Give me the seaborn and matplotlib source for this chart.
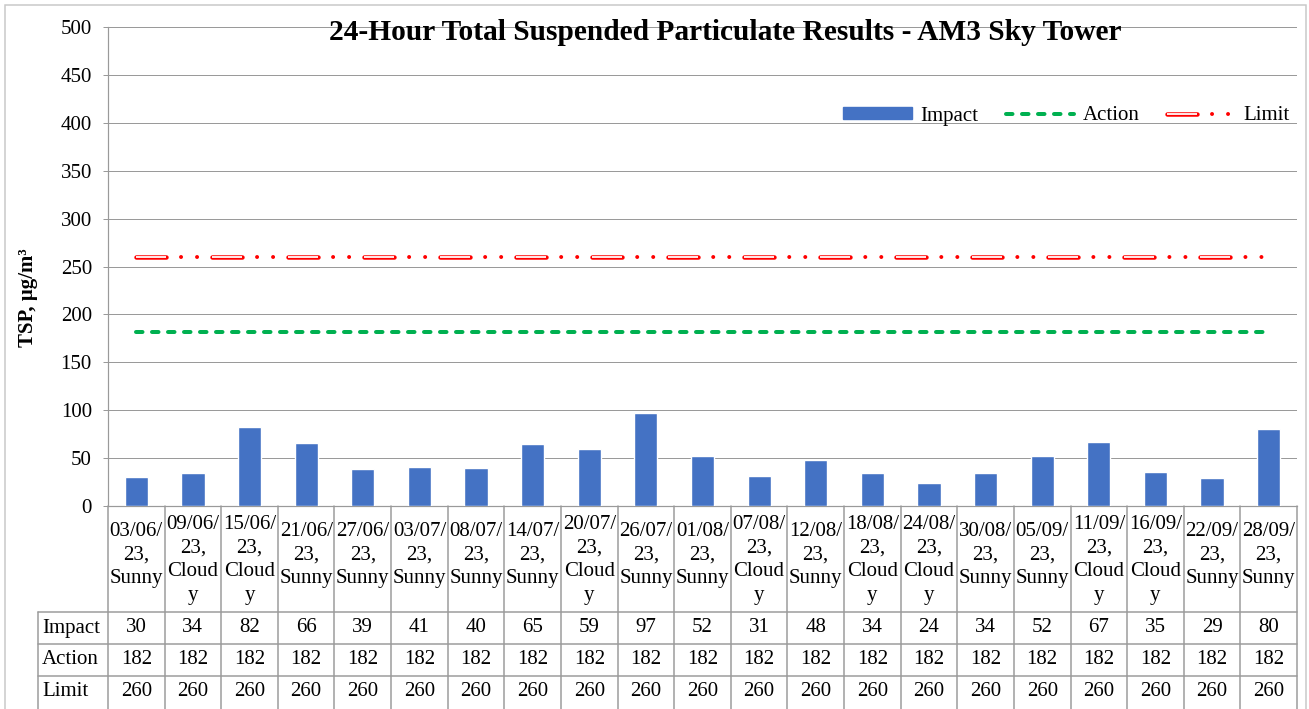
import matplotlib
matplotlib.use('Agg')
import matplotlib.pyplot as plt
import matplotlib.patheffects as pe
from matplotlib.patches import Patch, Rectangle
from matplotlib.lines import Line2D
from matplotlib.legend_handler import HandlerTuple
import numpy as np
import pandas as pd
import seaborn as sns

# data
dates = ["03/06/23", "09/06/23", "15/06/23", "21/06/23", "27/06/23", "03/07/23", "08/07/23",
         "14/07/23", "20/07/23", "26/07/23", "01/08/23", "07/08/23", "12/08/23", "18/08/23",
         "24/08/23", "30/08/23", "05/09/23", "11/09/23", "16/09/23", "22/09/23", "28/09/23"]
weather = ["Sunny", "Cloudy", "Cloudy", "Sunny", "Sunny", "Sunny", "Sunny",
           "Sunny", "Cloudy", "Sunny", "Sunny", "Cloudy", "Sunny", "Cloudy",
           "Cloudy", "Sunny", "Sunny", "Cloudy", "Cloudy", "Sunny", "Sunny"]
impact = [30, 34, 82, 66, 39, 41, 40, 65, 59, 97, 52, 31, 48, 34, 24, 34, 52, 67, 35, 29, 80]
action = [182, 182, 182, 182, 182, 182, 182, 182, 182, 182, 182,
          182, 182, 182, 182, 182, 182, 182, 182, 182, 182]
limit = [260, 260, 260, 260, 260, 260, 260, 260, 260, 260, 260,
         260, 260, 260, 260, 260, 260, 260, 260, 260, 260]
yticks = [0, 50, 100, 150, 200, 250, 300, 350, 400, 450, 500]


def wrap_label(d, w):
    # excel wraps the narrow category cell like this
    d1, d2 = d[:6], d[6:] + ","
    w = w[:5] + ("\n" + w[5:] if len(w) > 5 else "")
    return d1 + "\n" + d2 + "\n" + w


labels = [wrap_label(d, w) for d, w in zip(dates, weather)]
df = pd.DataFrame({"label": labels, "Impact": impact})

sns.set_theme(style="white")
plt.rcParams['font.family'] = ['Liberation Serif', 'DejaVu Serif']
plt.rcParams['lines.scale_dashes'] = False
plt.rcParams['text.color'] = 'black'
plt.rcParams['ytick.labelcolor'] = 'black'

W, H = 1309, 709
fig = plt.figure(figsize=(W / 100, H / 100), dpi=100)
L, R, T, B = 108, 1297, 27, 506
ax = fig.add_axes([L / W, 1 - B / H, (R - L) / W, (B - T) / H])

px = 72 / 100  # points per pixel
grey = "#9a9a9a"
fs = 15

sns.barplot(data=df, x="label", y="Impact", color="#4472C4", saturation=1,
            width=0.41, ax=ax, zorder=3)

x = np.arange(len(labels))
act_line, = ax.plot(x, action, color="#00B050", lw=4 * px, zorder=4,
                    linestyle=(0, (6.5 * px, 9.5 * px)), dash_capstyle="round")
lim_dash, = ax.plot(x, limit, color="#FFE4E4", lw=2 * px, zorder=4,
                    linestyle=(0, (30 * px, 46 * px)), dash_capstyle="butt",
                    path_effects=[pe.Stroke(linewidth=4.5 * px, foreground="red",
                                            capstyle="round"), pe.Normal()])
lim_dot, = ax.plot(x, limit, color="red", lw=4 * px, zorder=4,
                   linestyle=(31 * px, (0.01, 16 * px, 0.01, 60 * px)),
                   dash_capstyle="round")

ax.set_xlim(-0.5, len(labels) - 0.5)
ax.set_ylim(0, 500)
ax.set_yticks(yticks)
ax.set_yticklabels([str(v) for v in yticks], fontsize=fs, color="black")
ax.set_xticks([])
ax.set_xlabel("")
ax.set_ylabel("")
ax.grid(axis="y", color=grey, lw=1 * px, zorder=0)
ax.set_axisbelow(True)
for s in ["top", "right"]:
    ax.spines[s].set_visible(False)
for s in ["left", "bottom"]:
    ax.spines[s].set_color(grey)
    ax.spines[s].set_linewidth(1.2 * px)
ax.tick_params(axis="y", left=True, length=5 * px, width=1 * px, color=grey, pad=8)

ax.set_title("24-Hour Total Suspended Particulate Results - AM3 Sky Tower",
             fontsize=21.2, fontweight="bold", color="black",
             y=(B - 48) / (B - T), x=(725 - L) / (R - L))
fig.text(28 / W, 1 - 298 / H, "TSP, µg/m³", rotation=90, ha="center", va="center",
         fontsize=15, fontweight="bold", color="black")

leg = ax.legend([Patch(color="#4472C4"), act_line, (lim_dash, lim_dot)],
                ["Impact", "Action", "Limit"], ncol=3, frameon=False, fontsize=fs,
                loc="center right", bbox_to_anchor=((1290 - L) / (R - L), (B - 116) / (B - T)),
                borderaxespad=0, borderpad=0, handlelength=3.3, handleheight=0.5,
                handletextpad=0.4, columnspacing=1.3,
                handler_map={tuple: HandlerTuple(ndivide=1)})
for t in leg.get_texts():
    t.set_color("black")

# data table under the axis
n = len(labels)


def ay(p):
    return (B - p) / (B - T)


def axx(p):
    return (p - L) / (R - L)


tl = dict(color=grey, lw=1.5 * px, transform=ax.transAxes, clip_on=False)
for k in range(n + 1):
    ax.add_line(Line2D([k / n, k / n], [0, ay(709)], **tl))
ax.add_line(Line2D([axx(38), axx(38)], [ay(612), ay(709)], **tl))
for p in [612, 644, 676]:
    ax.add_line(Line2D([axx(38), 1], [ay(p), ay(p)], **tl))

for i, lab in enumerate(labels):
    nl = lab.count("\n") + 1
    ax.text((i + 0.5) / n, ay(560 if nl == 4 else 555), lab, transform=ax.transAxes,
            ha="center", va="center", fontsize=fs, linespacing=1.33, color="black")

rows = [("Impact", impact), ("Action", action), ("Limit", limit)]
for r, (name, vals) in enumerate(rows):
    yc = ay(628 + 32 * r)
    ax.text(axx(42), yc, name, transform=ax.transAxes, ha="left", va="center",
            fontsize=fs, color="black")
    for i, v in enumerate(vals):
        ax.text((i + 0.5) / n, yc, str(v), transform=ax.transAxes, ha="center",
                va="center", fontsize=fs, color="black")

# chart area border
fig.add_artist(Rectangle((5 / W, -0.01), 1301 / W, 1 - 5 / H + 0.01, transform=fig.transFigure,
                         fill=False, edgecolor="#c8c8c8", lw=1.5 * px))

fig.savefig("out.png", dpi=100)
